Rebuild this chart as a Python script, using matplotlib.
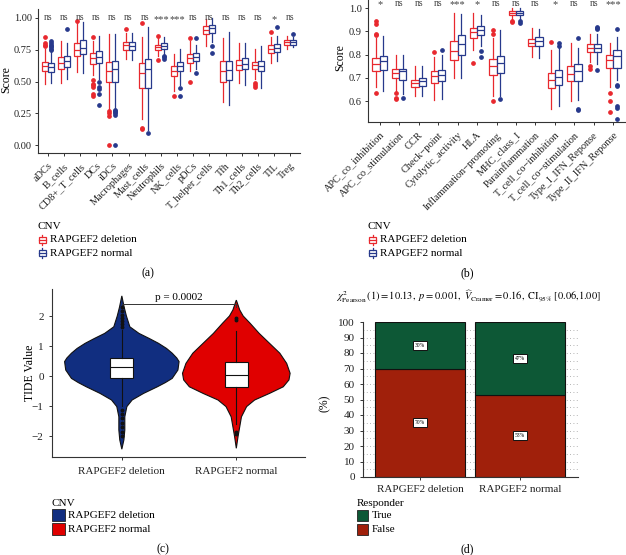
import matplotlib
matplotlib.use('Agg')
import matplotlib.pyplot as plt
from matplotlib.patches import Rectangle
from matplotlib.lines import Line2D
import numpy as np

plt.rcParams['font.family'] = ['Liberation Serif', 'DejaVu Serif']
plt.rcParams['mathtext.fontset'] = 'stix'
plt.rcParams['axes.unicode_minus'] = True

# ---------------- data: panel (a) immune cells ----------------
cats_a = ['aDCs', 'B_cells', 'CD8+_T_cells', 'DCs', 'iDCs', 'Macrophages', 'Mast_cells',
          'Neutrophils', 'NK_cells', 'pDCs', 'T_helper_cells', 'Tfh', 'Th1_cells',
          'Th2_cells', 'TIL', 'Treg']
sig_a = ['ns', 'ns', 'ns', 'ns', 'ns', 'ns', 'ns', '***', '***', 'ns', 'ns', 'ns', 'ns', 'ns', '*', 'ns']

del_a_q1 = [0.587, 0.60, 0.70, 0.64, 0.495, 0.75, 0.447, 0.75, 0.547, 0.645, 0.876, 0.50, 0.59, 0.60, 0.724, 0.79]
del_a_med = [0.624, 0.65, 0.745, 0.684, 0.587, 0.784, 0.566, 0.77, 0.587, 0.684, 0.908, 0.58, 0.634, 0.63, 0.753, 0.81]
del_a_q3 = [0.658, 0.69, 0.80, 0.726, 0.653, 0.81, 0.645, 0.79, 0.626, 0.713, 0.937, 0.66, 0.67, 0.658, 0.784, 0.823]
del_a_lo = [0.48, 0.49, 0.574, 0.55, 0.28, 0.68, 0.21, 0.70, 0.43, 0.58, 0.78, 0.34, 0.49, 0.52, 0.65, 0.76]
del_a_hi = [0.76, 0.82, 0.96, 0.82, 0.87, 0.88, 0.85, 0.84, 0.72, 0.82, 0.99, 0.84, 0.80, 0.76, 0.85, 0.86]
del_a_out = [[0.85, 0.80, 0.79, 0.78], [], [0.974], [0.85, 0.51, 0.48, 0.47, 0.46, 0.40, 0.39],
             [0.27, 0.25, 0.23, 0.0], [0.91], [0.96, 0.14, 0.13], [0.855, 0.67], [0.385],
             [0.845, 0.50], [], [], [], [0.49, 0.47, 0.455], [0.89], []]

norm_a_q1 = [0.579, 0.613, 0.713, 0.647, 0.50, 0.745, 0.447, 0.753, 0.587, 0.66, 0.88, 0.51, 0.597, 0.58, 0.73, 0.79]
norm_a_med = [0.618, 0.665, 0.763, 0.692, 0.60, 0.78, 0.60, 0.78, 0.626, 0.697, 0.92, 0.595, 0.64, 0.626, 0.766, 0.81]
norm_a_q3 = [0.645, 0.705, 0.83, 0.74, 0.66, 0.81, 0.674, 0.80, 0.658, 0.724, 0.947, 0.66, 0.684, 0.66, 0.797, 0.823]
norm_a_lo = [0.49, 0.52, 0.57, 0.52, 0.29, 0.67, 0.12, 0.72, 0.47, 0.60, 0.81, 0.32, 0.47, 0.45, 0.66, 0.77]
norm_a_hi = [0.74, 0.80, 0.97, 0.86, 0.87, 0.88, 0.93, 0.85, 0.76, 0.79, 1.0, 0.89, 0.80, 0.78, 0.86, 0.85]
norm_a_out = [[0.82, 0.80, 0.79, 0.78, 0.77, 0.76, 0.75], [0.91], [], [0.50, 0.46, 0.44, 0.40, 0.32],
              [0.28, 0.27, 0.26, 0.25, 0.24, 0.0], [], [0.10], [0.70, 0.69, 0.68], [0.45, 0.385],
              [0.845, 0.565], [0.78, 0.725], [], [], [], [0.93], [0.87]]

# ---------------- data: panel (b) immune functions ----------------
cats_b = ['APC_co_inhibition', 'APC_co_stimulation', 'CCR', 'Check\u2212point', 'Cytolytic_activity',
          'HLA', 'Inflammation\u2212promoting', 'MHC_class_I', 'Parainflammation',
          'T_cell_co\u2212inhibition', 'T_cell_co\u2212stimulation', 'Type_I_IFN_Reponse',
          'Type_II_IFN_Reponse']
sig_b = ['*', 'ns', 'ns', 'ns', '***', '*', 'ns', 'ns', 'ns', '*', 'ns', 'ns', '***']

del_b_q1 = [0.728, 0.70, 0.66, 0.677, 0.778, 0.871, 0.713, 0.971, 0.835, 0.656, 0.685, 0.81, 0.742]
del_b_med = [0.76, 0.723, 0.677, 0.706, 0.816, 0.897, 0.75, 0.979, 0.852, 0.69, 0.718, 0.828, 0.775]
del_b_q3 = [0.785, 0.74, 0.69, 0.728, 0.86, 0.914, 0.78, 0.986, 0.868, 0.723, 0.75, 0.845, 0.80]
del_b_lo = [0.66, 0.645, 0.62, 0.605, 0.70, 0.82, 0.62, 0.955, 0.79, 0.565, 0.60, 0.77, 0.66]
del_b_hi = [0.87, 0.80, 0.75, 0.79, 0.98, 0.98, 0.87, 1.0, 0.915, 0.82, 0.85, 0.89, 0.85]
del_b_out = [[0.945, 0.93, 0.89, 0.885, 0.635], [0.635, 0.615, 0.61], [], [0.81], [], [0.763],
             [0.908, 0.89, 0.60], [0.945, 0.94], [], [0.855], [], [0.75, 0.74], [0.635, 0.60, 0.555]]

norm_b_q1 = [0.735, 0.69, 0.663, 0.685, 0.80, 0.883, 0.723, 0.971, 0.835, 0.67, 0.687, 0.81, 0.742]
norm_b_med = [0.773, 0.728, 0.685, 0.713, 0.845, 0.904, 0.763, 0.979, 0.857, 0.703, 0.73, 0.828, 0.792]
norm_b_q3 = [0.796, 0.74, 0.70, 0.735, 0.885, 0.924, 0.796, 0.986, 0.875, 0.732, 0.76, 0.847, 0.818]
norm_b_lo = [0.645, 0.63, 0.62, 0.61, 0.70, 0.835, 0.62, 0.955, 0.785, 0.58, 0.605, 0.76, 0.69]
norm_b_hi = [0.88, 0.80, 0.75, 0.80, 0.975, 0.97, 0.905, 1.0, 0.91, 0.83, 0.83, 0.89, 0.875]
norm_b_out = [[], [0.615], [], [0.82], [], [0.815, 0.79], [0.608], [0.945, 0.935], [],
              [0.85, 0.835], [0.87, 0.565, 0.56], [0.92, 0.915, 0.91, 0.733],
              [0.91, 0.67, 0.665, 0.58, 0.57, 0.525]]

# ---------------- data: panel (c) TIDE violins ----------------
groups_c = ['RAPGEF2 deletion', 'RAPGEF2 normal']
vio_y_del = [2.67, 2.3, 2.0, 1.64, 1.42, 1.25, 1.09, 0.92, 0.76, 0.6, 0.48, 0.2, -0.08, -0.22, -0.36, -0.58, -0.8, -1.02, -1.36, -1.8, -2.13, -2.44]
vio_w_del = [0.0, 0.02, 0.04, 0.07, 0.15, 0.24, 0.32, 0.39, 0.44, 0.48, 0.50, 0.49, 0.44, 0.38, 0.31, 0.19, 0.09, 0.044, 0.026, 0.026, 0.018, 0.0]
vio_y_norm = [2.53, 2.2, 2.0, 1.76, 1.42, 1.09, 0.76, 0.42, 0.09, -0.13, -0.36, -0.58, -0.8, -1.02, -1.36, -1.69, -2.02, -2.41]
vio_w_norm = [0.0, 0.03, 0.06, 0.12, 0.2, 0.29, 0.38, 0.44, 0.47, 0.46, 0.41, 0.29, 0.16, 0.09, 0.045, 0.03, 0.015, 0.0]
box_c_q1 = [-0.06, -0.38]
box_c_med = [0.29, 0.03]
box_c_q3 = [0.59, 0.46]
box_c_lo = [-1.0, -1.6]
box_c_hi = [1.55, 1.5]
box_c_out = [[1.62, 1.75, 1.83, 1.95, 2.05, 2.18, 2.3, -1.12, -1.25, -1.4, -1.55, -1.7, -1.86, -2.0],
             [1.87, 1.95, -1.85, -1.92]]
pval_c = 'p = 0.0002'

# ---------------- data: panel (d) responder ----------------
groups_d = ['RAPGEF2 deletion', 'RAPGEF2 normal']
pct_false = [70, 53]
pct_true = [30, 47]

# ---------------- style ----------------
RED = '#E8282E'
BLUE = '#27398C'
NAVY = '#112E80'
VRED = '#E00000'
GREEN = '#0D5836'
DRED = '#A0200B'
AXC = '#333333'

W, H = 626, 555
fig = plt.figure(figsize=(W / 100, H / 100), dpi=100)


def ax_px(l, t, r, b):
    return fig.add_axes([l / W, 1 - b / H, (r - l) / W, (b - t) / H])


def ftext(x, y, s, **kw):
    fig.text(x / W, 1 - y / H, s, **kw)


def frect(x, y, w, h, **kw):
    fig.patches.append(Rectangle((x / W, 1 - (y + h) / H), w / W, h / H,
                                 transform=fig.transFigure, figure=fig, **kw))


def fline(xs, ys, **kw):
    fig.lines.append(Line2D([x / W for x in xs], [1 - y / H for y in ys],
                            transform=fig.transFigure, figure=fig, **kw))


def style_axes(ax):
    for s in ['top', 'right']:
        ax.spines[s].set_visible(False)
    for s in ['left', 'bottom']:
        ax.spines[s].set_color(AXC)
        ax.spines[s].set_linewidth(0.8)
    ax.tick_params(length=2.5, width=0.7, color=AXC, labelcolor='#222222')


def make_stats(q1, med, q3, lo, hi, out):
    return [dict(q1=a, med=m, q3=b, whislo=l, whishi=h, fliers=o)
            for a, m, b, l, h, o in zip(q1, med, q3, lo, hi, out)]


def draw_boxes(ax, stats, positions, color, width=0.375, lw=0.9, ms=2.4):
    ax.bxp(stats, positions=positions, widths=width, showcaps=False, patch_artist=True,
           manage_ticks=False,
           boxprops=dict(facecolor='white', edgecolor=color, linewidth=lw),
           medianprops=dict(color=color, linewidth=lw),
           whiskerprops=dict(color=color, linewidth=lw),
           flierprops=dict(marker='o', markerfacecolor=color, markeredgecolor=color,
                           markersize=ms, linestyle='none'))


def box_key(x, y, color):
    frect(x, y - 3, 7, 6, facecolor='white', edgecolor=color, linewidth=0.9)
    fline([x, x + 7], [y, y], color=color, linewidth=0.9)
    fline([x + 3.5, x + 3.5], [y - 5, y - 3], color=color, linewidth=0.9)
    fline([x + 3.5, x + 3.5], [y + 3, y + 5], color=color, linewidth=0.9)


# ---------------- panel (a) ----------------
axa = ax_px(38, 9, 300, 153)
pos_a = np.arange(1, len(cats_a) + 1)
draw_boxes(axa, make_stats(del_a_q1, del_a_med, del_a_q3, del_a_lo, del_a_hi, del_a_out),
           pos_a - 0.1875, RED)
draw_boxes(axa, make_stats(norm_a_q1, norm_a_med, norm_a_q3, norm_a_lo, norm_a_hi, norm_a_out),
           pos_a + 0.1875, BLUE)
axa.set_xlim(0.4, len(cats_a) + 0.6)
axa.set_ylim(-0.06, 1.07)
axa.set_yticks([0, 0.25, 0.5, 0.75, 1.0])
axa.set_yticklabels(['0.00', '0.25', '0.50', '0.75', '1.00'], fontsize=7.5)
axa.set_xticks(pos_a)
axa.set_xticklabels(cats_a, rotation=45, ha='right', va='top', rotation_mode='anchor', fontsize=7.5)
style_axes(axa)
axa.tick_params(axis='y', pad=2)
for p, s in zip(pos_a, sig_a):
    axa.text(p, 1.0 if s == 'ns' else 0.985, s, ha='center', va='center', fontsize=7 if s == 'ns' else 7.5,
             color='#444444', clip_on=False)
ftext(6, 80, 'Score', rotation=90, ha='center', va='center', fontsize=8.5)
ftext(38, 226, 'CNV', ha='left', va='center', fontsize=8)
box_key(39, 240, RED)
box_key(39, 253, BLUE)
ftext(50, 240, 'RAPGEF2 deletion', ha='left', va='center', fontsize=8)
ftext(50, 253, 'RAPGEF2 normal', ha='left', va='center', fontsize=8)
ftext(148, 273, '(a)', ha='center', va='center', fontsize=8.5)

# ---------------- panel (b) ----------------
axb = ax_px(368, 0, 625, 122)
pos_b = np.arange(1, len(cats_b) + 1)
draw_boxes(axb, make_stats(del_b_q1, del_b_med, del_b_q3, del_b_lo, del_b_hi, del_b_out),
           pos_b - 0.1875, RED)
draw_boxes(axb, make_stats(norm_b_q1, norm_b_med, norm_b_q3, norm_b_lo, norm_b_hi, norm_b_out),
           pos_b + 0.1875, BLUE)
axb.set_xlim(0.4, len(cats_b) + 0.6)
axb.set_ylim(0.51, 1.035)
axb.set_yticks([0.6, 0.7, 0.8, 0.9, 1.0])
axb.set_yticklabels(['0.6', '0.7', '0.8', '0.9', '1.0'], fontsize=7.5)
axb.set_xticks(pos_b)
axb.set_xticklabels(cats_b, rotation=45, ha='right', va='top', rotation_mode='anchor', fontsize=7.5)
style_axes(axb)
axb.tick_params(axis='y', pad=2)
for p, s in zip(pos_b, sig_b):
    axb.text(p, 1.022 if s == 'ns' else 1.015, s, ha='center', va='center', fontsize=7 if s == 'ns' else 7.5,
             color='#444444', clip_on=False)
ftext(340, 58, 'Score', rotation=90, ha='center', va='center', fontsize=8.5)
ftext(368, 226, 'CNV', ha='left', va='center', fontsize=8)
box_key(369, 240, RED)
box_key(369, 253, BLUE)
ftext(380, 240, 'RAPGEF2 deletion', ha='left', va='center', fontsize=8)
ftext(380, 253, 'RAPGEF2 normal', ha='left', va='center', fontsize=8)
ftext(467, 273, '(b)', ha='center', va='center', fontsize=8.5)

# ---------------- panel (c) ----------------
axc = ax_px(52, 289, 305, 457)
for i, (yy, ww, col) in enumerate([(vio_y_del, vio_w_del, NAVY), (vio_y_norm, vio_w_norm, VRED)]):
    c = i + 1
    yy = np.asarray(yy)
    ww = np.asarray(ww)
    xs = np.concatenate([c - ww, (c + ww)[::-1]])
    ys = np.concatenate([yy, yy[::-1]])
    axc.fill(xs, ys, facecolor=col, edgecolor='#111111', linewidth=0.8, zorder=1)
stats_c = make_stats(box_c_q1, box_c_med, box_c_q3, box_c_lo, box_c_hi, box_c_out)
axc.bxp(stats_c, positions=[1, 2], widths=0.2, showcaps=False, patch_artist=True, manage_ticks=False,
        boxprops=dict(facecolor='white', edgecolor='#111111', linewidth=0.8),
        medianprops=dict(color='#111111', linewidth=0.8),
        whiskerprops=dict(color='#111111', linewidth=0.8),
        flierprops=dict(marker='o', markerfacecolor='#111111', markeredgecolor='#111111',
                        markersize=1.8, linestyle='none'), zorder=3)
axc.plot([1, 1, 2, 2], [2.25, 2.4, 2.4, 2.3], color='#333333', linewidth=0.7)
axc.text(1.5, 2.45, pval_c, ha='center', va='bottom', fontsize=8)
axc.set_xlim(0.39, 2.6)
axc.set_ylim(-2.7, 2.9)
axc.set_yticks([-2, -1, 0, 1, 2])
axc.set_yticklabels(['\u22122', '\u22121', '0', '1', '2'], fontsize=8)
axc.set_xticks([1, 2])
axc.set_xticklabels(groups_c, fontsize=8)
axc.tick_params(axis='x', pad=5)
style_axes(axc)
ftext(30, 373, 'TIDE Value', rotation=90, ha='center', va='center', fontsize=8.5)
ftext(52, 503, 'CNV', ha='left', va='center', fontsize=8)
frect(52, 509, 13, 12, facecolor=NAVY, edgecolor='#222222', linewidth=0.6)
frect(52, 523, 13, 12, facecolor=VRED, edgecolor='#222222', linewidth=0.6)
ftext(68, 515, groups_c[0], ha='left', va='center', fontsize=8)
ftext(68, 529, groups_c[1], ha='left', va='center', fontsize=8)
ftext(163, 549, '(c)', ha='center', va='center', fontsize=8.5)

# ---------------- panel (d) ----------------
axd = ax_px(363, 322, 578, 477)
pos_d = np.arange(1, len(groups_d) + 1)
for yv in range(5, 100, 5):
    axd.axhline(yv, color='#9a9a9a', linestyle=(0, (1, 3)), linewidth=0.6, zorder=0)
axd.bar(pos_d, pct_false, width=0.9, color=DRED, edgecolor='#111111', linewidth=0.8, zorder=2)
axd.bar(pos_d, pct_true, bottom=pct_false, width=0.9, color=GREEN, edgecolor='#111111',
        linewidth=0.8, zorder=2)
for p, f, t in zip(pos_d, pct_false, pct_true):
    for yv, val in [(f / 2, f), (f + t / 2, t)]:
        axd.text(p, yv, f'{val}%', ha='center', va='center', fontsize=4, zorder=4,
                 bbox=dict(boxstyle='square,pad=0.35', facecolor='white', edgecolor='#111111', linewidth=0.7))
axd.set_xlim(0.43, 2.58)
axd.set_ylim(0, 100)
axd.set_yticks(range(0, 101, 10))
axd.set_yticklabels([str(v) for v in range(0, 101, 10)], fontsize=8)
axd.set_xticks(pos_d)
axd.set_xticklabels(groups_d, fontsize=8)
axd.tick_params(axis='x', pad=3)
style_axes(axd)
ftext(325, 403, '(%)', rotation=90, ha='center', va='center', fontsize=8.5)
ftext(468, 297,
      r'$\chi^2_{\mathrm{Pearson}}\,(1) = 10.13,\ p = 0.001,\ \widehat{V}_{\mathrm{Cramer}} = 0.16,\ \mathrm{CI}_{95\%}\ [0.06{,}1.00]$',
      ha='center', va='center', fontsize=7.5)
ftext(357, 503, 'Responder', ha='left', va='center', fontsize=8)
frect(357, 510, 11, 11, facecolor=GREEN, edgecolor='#222222', linewidth=0.6)
frect(357, 524, 11, 11, facecolor=DRED, edgecolor='#222222', linewidth=0.6)
ftext(372, 516, 'True', ha='left', va='center', fontsize=8)
ftext(372, 529, 'False', ha='left', va='center', fontsize=8)
ftext(467, 549, '(d)', ha='center', va='center', fontsize=8.5)

fig.savefig('out.png', dpi=100)
